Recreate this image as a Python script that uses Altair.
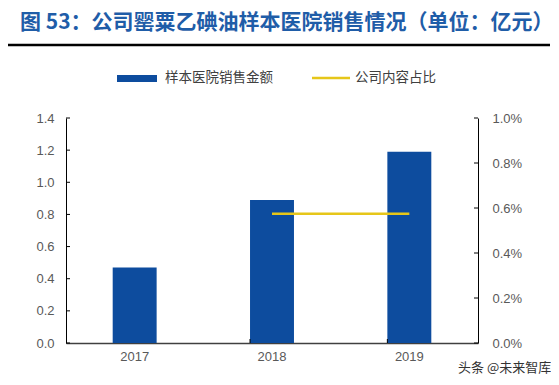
import altair as alt
import pandas as pd

years = ["2017", "2018", "2019"]
sales = [0.47, 0.89, 1.19]
share_years = ["2018", "2019"]
share = [0.00575, 0.00575]
left_ticks = [0.0, 0.2, 0.4, 0.6, 0.8, 1.0, 1.2, 1.4]
right_ticks = [0.0, 0.002, 0.004, 0.006, 0.008, 0.010]
inner_x_ticks = ["2018", "2019"]

title_text = "图 53：公司罂粟乙碘油样本医院销售情况（单位：亿元）"
legend_bar = "样本医院销售金额"
legend_line = "公司内容占比"
watermark = "头条 @未来智库"

BLUE = "#0D4C9E"
YELLOW = "#E6C619"
TITLE_BLUE = "#1F5DA8"
GREY = "#595959"
NUM_FONT = "Liberation Sans"
CJK_FONT = "Noto Sans CJK SC"

W, H = 412, 225

x_scale = alt.Scale(domain=years, paddingInner=0.68, paddingOuter=0.34)
x_axis = alt.Axis(title=None, labelAngle=0, ticks=False, domainColor="#404040",
                  domainWidth=1.5, labelFont=NUM_FONT, labelFontSize=13,
                  labelColor=GREY, labelPadding=7)


def xenc(**kw):
    return alt.X("year:N", scale=x_scale, axis=x_axis, **kw)


left_scale = alt.Scale(domain=[0, 1.4], nice=False)
left_axis = alt.Axis(title=None, values=left_ticks, format=".1f", grid=False, ticks=False,
                     domainColor="black", domainWidth=1, labelFont=NUM_FONT, labelFontSize=13,
                     labelColor=GREY, labelPadding=12)
right_scale = alt.Scale(domain=[0, 0.01], nice=False)
right_axis = alt.Axis(title=None, values=right_ticks, format=".1%", grid=False, ticks=False,
                      orient="right", domainColor="black", domainWidth=1, labelFont=NUM_FONT,
                      labelFontSize=13, labelColor=GREY, labelPadding=14)

bar_df = pd.DataFrame({"year": years, "value": sales})
line_df = pd.DataFrame({"year": share_years, "share": share})
lt_df = pd.DataFrame({"value": left_ticks})
rt_df = pd.DataFrame({"share": right_ticks})
xt_df = pd.DataFrame({"year": inner_x_ticks})

bars = alt.Chart(bar_df).mark_bar(color=BLUE).encode(
    x=xenc(),
    y=alt.Y("value:Q", scale=left_scale, axis=left_axis),
)
lticks = alt.Chart(lt_df).mark_rule(color="black", strokeWidth=1).encode(
    y=alt.Y("value:Q", scale=left_scale, axis=left_axis),
    x=alt.value(0), x2=alt.value(4),
)
xticks = alt.Chart(xt_df).mark_rule(color="black", strokeWidth=1).encode(
    x=xenc(bandPosition=0),
    y=alt.value(H), y2=alt.value(H - 4),
)

title = alt.Chart(pd.DataFrame({"t": [title_text]})).mark_text(
    align="left", baseline="alphabetic", font=CJK_FONT, fontSize=21, fontWeight="bold",
    color=TITLE_BLUE).encode(text="t:N", x=alt.value(-46), y=alt.value(-89))
title_rule = alt.Chart(pd.DataFrame({"a": [0]})).mark_rule(color="black", strokeWidth=2.5).encode(
    x=alt.value(-59), x2=alt.value(484), y=alt.value(-73))
leg_rect = alt.Chart(pd.DataFrame({"a": [0]})).mark_rect(color=BLUE).encode(
    x=alt.value(51), x2=alt.value(91), y=alt.value(-43), y2=alt.value(-36))
leg_line = alt.Chart(pd.DataFrame({"a": [0]})).mark_rule(color=YELLOW, strokeWidth=2.5).encode(
    x=alt.value(246), x2=alt.value(284), y=alt.value(-40))
leg_text = alt.Chart(pd.DataFrame({"t": [legend_bar, legend_line], "px": [99, 289]})).mark_text(
    align="left", baseline="middle", font=CJK_FONT, fontSize=13.5, color="#404040").encode(
    text="t:N", x=alt.X("px:Q", scale=None), y=alt.value(-40))
wm = alt.Chart(pd.DataFrame({"t": [watermark]})).mark_text(
    align="left", baseline="middle", font=CJK_FONT, fontSize=13, color="#333333").encode(
    text="t:N", x=alt.value(392), y=alt.value(250))

line = alt.Chart(line_df).mark_line(color=YELLOW, strokeWidth=2.5).encode(
    x=xenc(),
    y=alt.Y("share:Q", scale=right_scale, axis=right_axis),
)
rticks = alt.Chart(rt_df).mark_rule(color="black", strokeWidth=1).encode(
    y=alt.Y("share:Q", scale=right_scale, axis=right_axis),
    x=alt.value(W - 4), x2=alt.value(W),
)

left = alt.layer(bars, lticks, xticks, title, title_rule, leg_rect, leg_line, leg_text, wm)
right = alt.layer(line, rticks)

chart = alt.layer(left, right).resolve_scale(y="independent").properties(
    width=W, height=H,
    autosize=alt.AutoSizeParams(type="none"),
    padding={"left": 58, "top": 110, "right": 73, "bottom": 34},
    background="white",
).configure_view(stroke=None)

chart.save("out.html", embed_options={"renderer": "svg", "actions": False})
